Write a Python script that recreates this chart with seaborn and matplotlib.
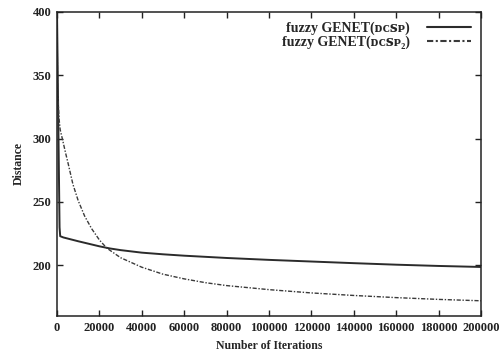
import numpy as np
import pandas as pd
import matplotlib
matplotlib.use("Agg")
import matplotlib.pyplot as plt
import seaborn as sns

# Convergence of the mean distance for the two fuzzy GENET variants
iters_dcsp = [0, 1200, 1500, 3000, 10000, 20000, 25000, 30000, 40000, 50000,
              60000, 80000, 100000, 120000, 140000, 160000, 180000, 200000]
dist_dcsp = [400, 230, 223, 222, 219, 215, 213.3, 212, 210, 208.7,
             207.6, 205.8, 204.3, 203, 201.7, 200.5, 199.5, 198.7]

iters_dcsp2 = [0, 250, 500, 1000, 1500, 2500, 4000, 5300, 7500, 10000, 13000,
               16300, 20000, 23400, 30000, 40000, 50000, 60000, 70000, 80000,
               100000, 120000, 140000, 160000, 180000, 200000]
dist_dcsp2 = [400, 345, 330, 315, 307, 300, 289, 280, 264, 251, 239,
              229, 220, 213.7, 206, 198.5, 193, 189.3, 186.3, 184,
              180.8, 178.2, 176.2, 174.5, 173.1, 172]

label_dcsp = "fuzzy GENET(\u1d05\u1d04\ua731\u1d18)"
label_dcsp2 = "fuzzy GENET(\u1d05\u1d04\ua731\u1d18\u2082)"
series_labels = [label_dcsp, label_dcsp2]

x_ticks = list(range(0, 200001, 20000))
y_ticks = [200, 250, 300, 350, 400]

df = pd.concat([
    pd.DataFrame({"Number of Iterations": iters_dcsp, "Distance": dist_dcsp,
                  "run": label_dcsp}),
    pd.DataFrame({"Number of Iterations": iters_dcsp2, "Distance": dist_dcsp2,
                  "run": label_dcsp2}),
])

sns.set_theme(style="ticks")
plt.rcParams["font.family"] = ["Liberation Serif", "DejaVu Serif"]
plt.rcParams["mathtext.fontset"] = "stix"

fig = plt.figure(figsize=(5.01, 3.61), dpi=100)
ax = fig.add_axes([0.1138, 0.1247, 0.8462, 0.8421])

sns.lineplot(data=df, x="Number of Iterations", y="Distance", hue="run",
             style="run", hue_order=series_labels, style_order=series_labels,
             palette=["#2b2b2b", "#3a3a3a"],
             dashes=[(None, None), (3, 1.2, 1, 1.2)],
             ax=ax, legend=True, estimator=None, sort=False)

lines = ax.get_lines()
lines[0].set_linewidth(1.4)
lines[1].set_linewidth(1.0)

ax.set_xlim(0, 200000)
ax.set_ylim(160, 400)
ax.set_xticks(x_ticks)
ax.set_xticklabels([str(t) for t in x_ticks])
ax.set_yticks(y_ticks)
ax.set_yticklabels([str(t) for t in y_ticks])
ax.tick_params(direction="in", length=4, width=1, top=True, right=True,
               labelsize=9, pad=4, colors="#222222")
for lab in ax.get_xticklabels() + ax.get_yticklabels():
    lab.set_fontweight("bold")
for sp in ax.spines.values():
    sp.set_visible(True)
    sp.set_linewidth(1.1)
    sp.set_color("#222222")

ax.set_xlabel("Number of Iterations", fontsize=8.5, fontweight="bold",
              labelpad=5)
ax.set_ylabel("Distance", fontsize=8.5, fontweight="bold", labelpad=6)

leg = ax.legend(loc="upper right", frameon=False, markerfirst=False,
                fontsize=10, handlelength=3.2, borderaxespad=0.3,
                labelspacing=0.05, handletextpad=1.2)
for t in leg.get_texts():
    t.set_fontweight("bold")

fig.savefig("out.png", dpi=100)
